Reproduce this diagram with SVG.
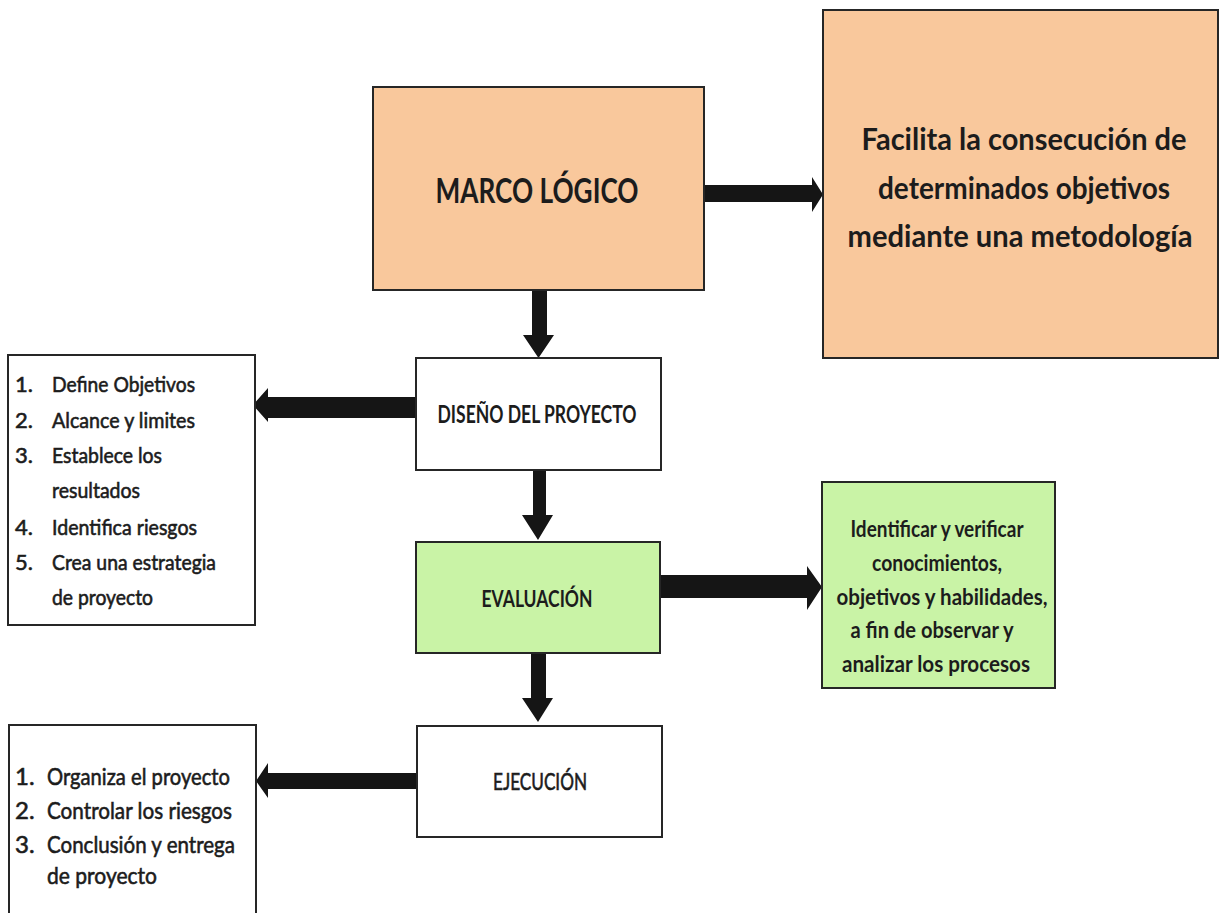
<svg xmlns="http://www.w3.org/2000/svg" width="1220" height="913" viewBox="0 0 1220 913">
<style>
.box{stroke:#262626;stroke-width:2}
.peach{fill:#F9C89C}
.green{fill:#C9F3A6}
.white{fill:#FFFFFF}
.t{font-family:Lato,"Liberation Sans",sans-serif;font-weight:bold;fill:#1c1c1c}
.c{text-anchor:middle}
.l{font-family:Lato,"Liberation Sans",sans-serif;font-weight:normal;fill:#1c1c1c;stroke:#1c1c1c;stroke-width:0.6}
.arrow{fill:#151515}
</style>
<rect width="1220" height="913" fill="#FFFFFF"/>
<g id="connectors">
  <polygon class="arrow" points="704,185 812,185 812,177 823,194.5 812,212 812,202 704,202"/>
  <polygon class="arrow" points="532,290 547,290 547,335 554,335 538.5,358 523,335 532,335"/>
  <polygon class="arrow" points="416,397 268,397 268,388 253,405 268,422 268,418 416,418"/>
  <polygon class="arrow" points="533,470 546,470 546,515 553,515 538,540 522,515 533,515"/>
  <polygon class="arrow" points="660,575 807,575 807,566 822,587 807,610 807,598 660,598"/>
  <polygon class="arrow" points="531,653 546,653 546,698 553,698 538,722 522,698 531,698"/>
  <polygon class="arrow" points="417,773 268,773 268,763 256,781 268,798 268,789 417,789"/>
</g>
<g id="marco">
  <rect class="box peach" x="373" y="87" width="331" height="203"/>
  <text class="t c" x="537" y="203" font-size="34" textLength="203" lengthAdjust="spacingAndGlyphs">MARCO LÓGICO</text>
</g>
<g id="facilita">
  <rect class="box peach" x="823" y="10" width="395" height="348"/>
  <text class="t c" x="1024" y="150" font-size="31" textLength="325" lengthAdjust="spacingAndGlyphs">Facilita la consecución de</text>
  <text class="t c" x="1024" y="199" font-size="31" textLength="292" lengthAdjust="spacingAndGlyphs">determinados objetivos</text>
  <text class="t c" x="1020" y="247" font-size="31" textLength="345" lengthAdjust="spacingAndGlyphs">mediante una metodología</text>
</g>
<g id="diseno">
  <rect class="box white" x="416" y="358" width="245" height="112"/>
  <text class="t c" x="537" y="423" font-size="24" textLength="199" lengthAdjust="spacingAndGlyphs">DISEÑO DEL PROYECTO</text>
</g>
<g id="lista-diseno">
  <rect class="box white" x="8" y="355" width="247" height="270"/>
  <text class="l" x="15" y="392" font-size="22">1.</text>
  <text class="l" x="52" y="392" font-size="22" textLength="143" lengthAdjust="spacingAndGlyphs">Define Objetivos</text>
  <text class="l" x="15" y="428" font-size="22">2.</text>
  <text class="l" x="52" y="428" font-size="22" textLength="143" lengthAdjust="spacingAndGlyphs">Alcance y limites</text>
  <text class="l" x="15" y="463" font-size="22">3.</text>
  <text class="l" x="52" y="463" font-size="22" textLength="110" lengthAdjust="spacingAndGlyphs">Establece los</text>
  <text class="l" x="52" y="498" font-size="22" textLength="88" lengthAdjust="spacingAndGlyphs">resultados</text>
  <text class="l" x="15" y="535" font-size="22">4.</text>
  <text class="l" x="52" y="535" font-size="22" textLength="145" lengthAdjust="spacingAndGlyphs">Identifica riesgos</text>
  <text class="l" x="15" y="570" font-size="22">5.</text>
  <text class="l" x="52" y="570" font-size="22" textLength="164" lengthAdjust="spacingAndGlyphs">Crea una estrategia</text>
  <text class="l" x="52" y="605" font-size="22" textLength="101" lengthAdjust="spacingAndGlyphs">de proyecto</text>
</g>
<g id="evaluacion">
  <rect class="box green" x="416" y="542" width="244" height="111"/>
  <text class="t c" x="537" y="607" font-size="23" textLength="111" lengthAdjust="spacingAndGlyphs">EVALUACIÓN</text>
</g>
<g id="evaluacion-desc">
  <rect class="box green" x="822" y="482" width="233" height="206"/>
  <text class="t c" x="937" y="537" font-size="23" textLength="173" lengthAdjust="spacingAndGlyphs">Identificar y verificar</text>
  <text class="t c" x="937" y="571" font-size="23" textLength="130" lengthAdjust="spacingAndGlyphs">conocimientos,</text>
  <text class="t c" x="942" y="605" font-size="23" textLength="211" lengthAdjust="spacingAndGlyphs">objetivos y habilidades,</text>
  <text class="t c" x="932" y="638" font-size="23" textLength="163" lengthAdjust="spacingAndGlyphs">a fin de observar  y</text>
  <text class="t c" x="936" y="672" font-size="23" textLength="188" lengthAdjust="spacingAndGlyphs">analizar los procesos</text>
</g>
<g id="ejecucion">
  <rect class="box white" x="417" y="726" width="245" height="111"/>
  <text class="l c" x="540" y="790" font-size="23" textLength="94" lengthAdjust="spacingAndGlyphs">EJECUCIÓN</text>
</g>
<g id="lista-ejecucion">
  <rect class="box white" x="9" y="725" width="247" height="200"/>
  <text class="l" x="15" y="785" font-size="24">1.</text>
  <text class="l" x="47" y="785" font-size="24" textLength="183" lengthAdjust="spacingAndGlyphs">Organiza el proyecto</text>
  <text class="l" x="15" y="819" font-size="24">2.</text>
  <text class="l" x="47" y="819" font-size="24" textLength="185" lengthAdjust="spacingAndGlyphs">Controlar los riesgos</text>
  <text class="l" x="15" y="853" font-size="24">3.</text>
  <text class="l" x="47" y="853" font-size="24" textLength="188" lengthAdjust="spacingAndGlyphs">Conclusión y entrega</text>
  <text class="l" x="47" y="884" font-size="24" textLength="110" lengthAdjust="spacingAndGlyphs">de proyecto</text>
</g>
</svg>
